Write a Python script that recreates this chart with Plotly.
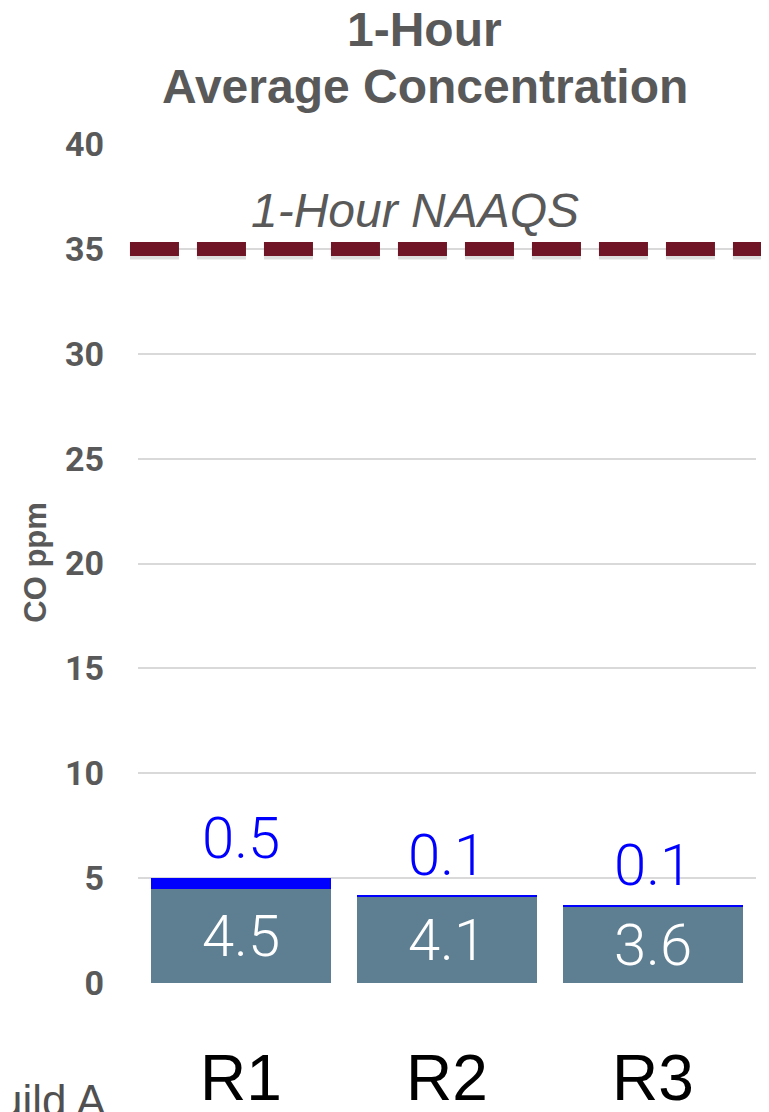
import plotly.graph_objects as go

# ---- data ----
categories = ["R1", "R2", "R3"]
base_values = [4.5, 4.1, 3.6]
increment_values = [0.5, 0.1, 0.1]
naaqs_level = 35
y_ticks = [0, 5, 10, 15, 20, 25, 30, 35, 40]
title_lines = ["1-Hour", "Average Concentration"]
naaqs_label = "1-Hour NAAQS"
y_title = "CO ppm"

GRAY = "#595959"
BAR = "#5E7F92"
BLUE = "#0000FF"
MAROON = "#6F1526"
SANS = "Liberation Sans, Arial, sans-serif"
LIGHT = "Roboto, sans-serif"

fig = go.Figure()
fig.add_trace(go.Bar(
    x=categories, y=base_values, marker=dict(color=BAR, line=dict(width=0)),
    text=[f"{v:.1f}" for v in base_values], textposition="inside",
    insidetextanchor="middle",
    textfont=dict(family=LIGHT, size=58, color="white", weight=300),
    hoverinfo="skip", showlegend=False,
))
fig.add_trace(go.Bar(
    x=categories, y=increment_values, marker=dict(color=BLUE, line=dict(width=0)),
    hoverinfo="skip", showlegend=False,
))

# labels above the stacks
for c, b, inc in zip(categories, base_values, increment_values):
    fig.add_annotation(
        x=c, y=b + inc, xref="x", yref="y", text=f"{inc:.1f}", showarrow=False,
        yanchor="bottom", yshift=4,
        font=dict(family=LIGHT, size=58, color=BLUE, weight=300),
    )

# NAAQS dashed line with a soft shadow
DASH = "49px,18px"
fig.add_shape(type="line", xref="paper", yref="y", x0=-0.013, x1=1.05,
              y0=-4, y1=-4, ysizemode="pixel", yanchor=naaqs_level,
              line=dict(color="rgba(0,0,0,0.13)", width=13, dash=DASH))
fig.add_shape(type="line", xref="paper", yref="y", x0=-0.013, x1=1.05,
              y0=naaqs_level, y1=naaqs_level,
              line=dict(color=MAROON, width=14, dash=DASH))
fig.add_annotation(x=0.448, xref="paper", y=naaqs_level + 1.85, yref="y",
                   text=f"<i>{naaqs_label}</i>", showarrow=False, yanchor="middle",
                   font=dict(family=SANS, size=48, color=GRAY))

# title
fig.add_annotation(x=0.464, xref="paper", y=1.136, yref="paper", text=f"<b>{title_lines[0]}</b>",
                   showarrow=False, yanchor="middle", font=dict(family=SANS, size=48, color=GRAY))
fig.add_annotation(x=0.464, xref="paper", y=1.069, yref="paper", text=f"<b>{title_lines[1]}</b>",
                   showarrow=False, yanchor="middle", font=dict(family=SANS, size=48, color=GRAY))

# y-axis title
fig.add_annotation(x=-0.165, xref="paper", y=0.501, yref="paper", text=f"<b>{y_title}</b>",
                   textangle=-90, showarrow=False, xanchor="center", yanchor="middle",
                   font=dict(family=SANS, size=31, color=GRAY))

# stray slide text at bottom-left
fig.add_annotation(x=-0.23, xref="paper", y=-0.172, yref="paper", text="uild A",
                   xanchor="left", yanchor="bottom", showarrow=False,
                   font=dict(family=SANS, size=44, color="#505050"))

fig.update_layout(
    width=769, height=1112, barmode="stack", bargap=0.13,
    margin=dict(l=130, r=21, t=136, b=137, autoexpand=False),
    paper_bgcolor="white", plot_bgcolor="white",
    uniformtext=dict(mode="show", minsize=58),
    xaxis=dict(showgrid=False, showline=False, zeroline=False, ticks="", automargin=False,
               tickfont=dict(family=SANS, size=64, color="black"), ticklabelstandoff=52),
    yaxis=dict(range=[0, 40], tickvals=y_ticks, showline=False, zeroline=False, automargin=False,
               gridcolor="#D9D9D9", gridwidth=2, ticks="",
               tickfont=dict(family="Roboto, sans-serif", size=34, color=GRAY, weight="bold"),
               ticklabelstandoff=33),
)

fig.write_html("out.html")
